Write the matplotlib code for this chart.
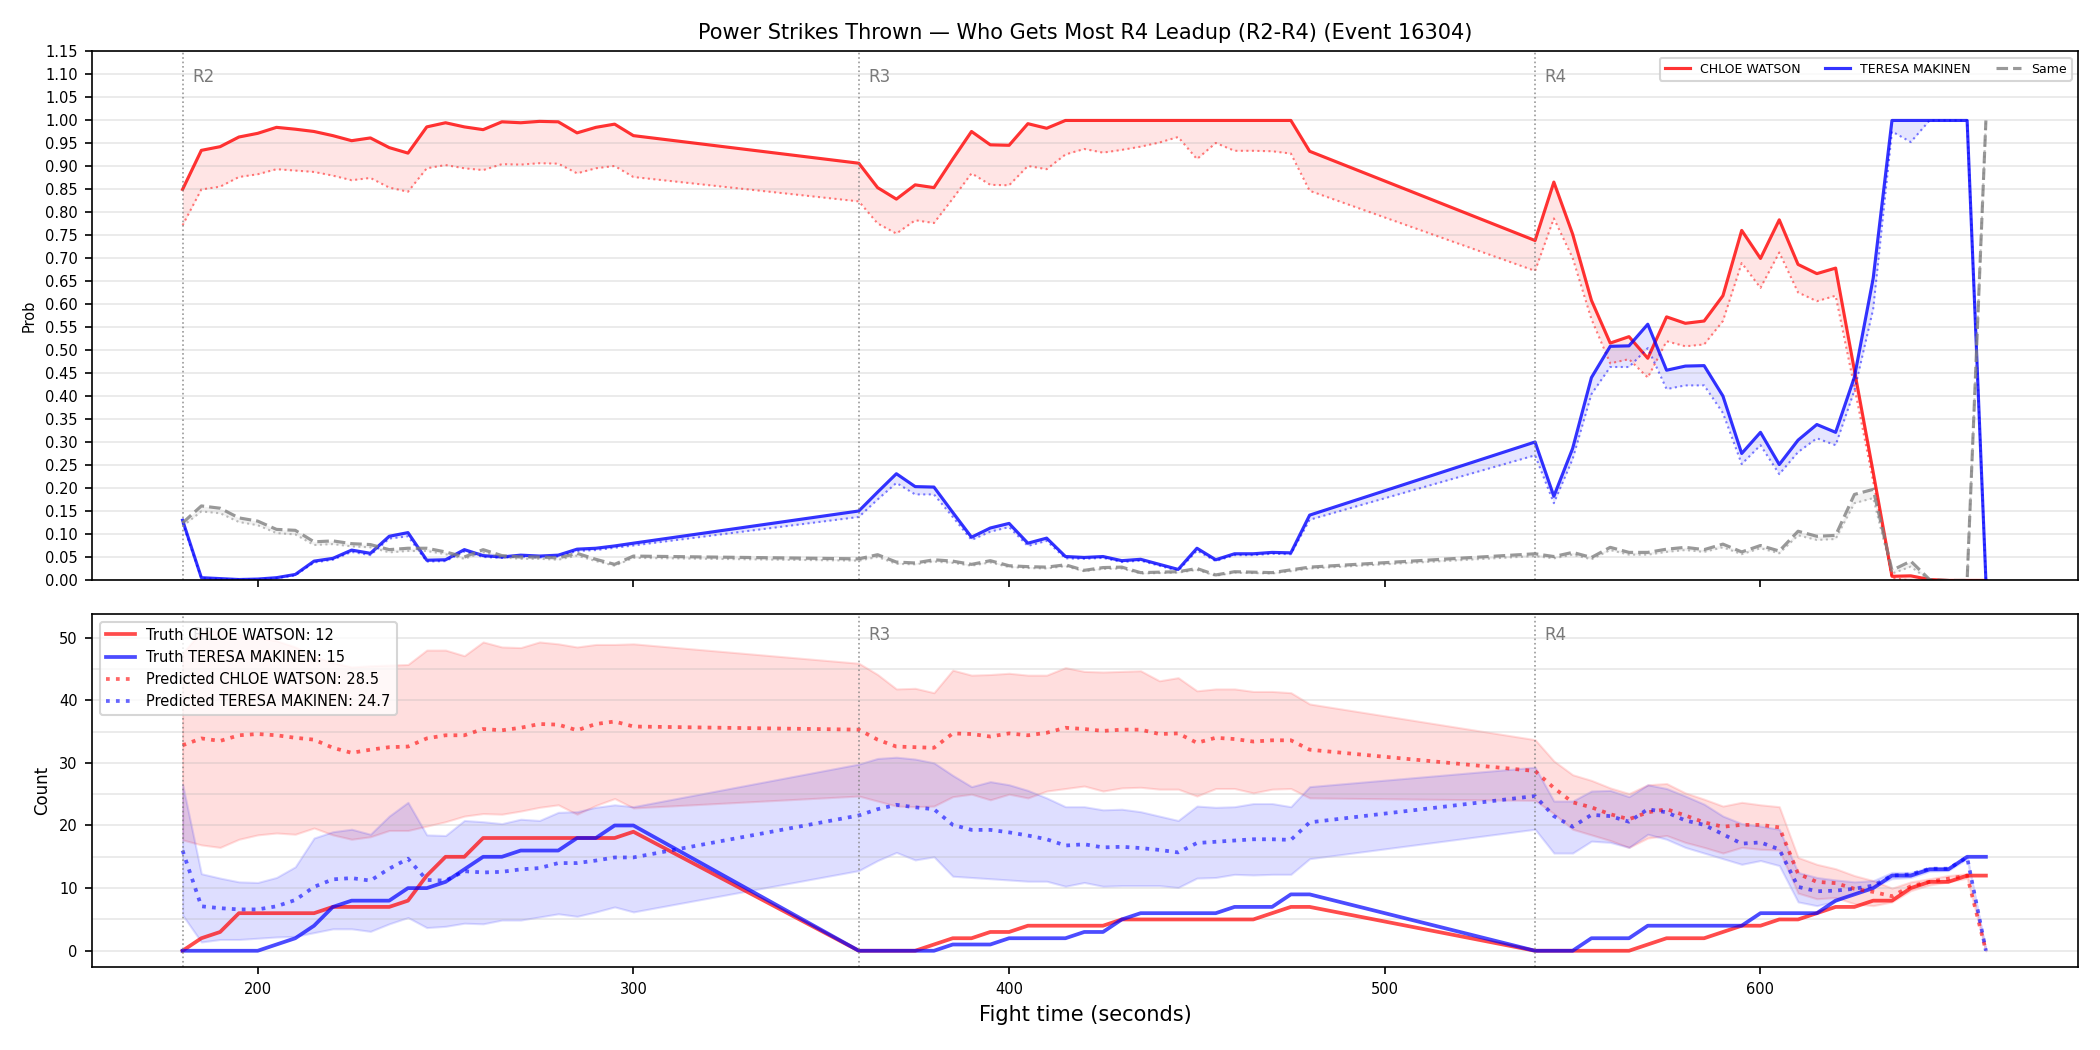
import numpy as np
import matplotlib
matplotlib.use("Agg")
import matplotlib.pyplot as plt
from matplotlib.lines import Line2D
from matplotlib.ticker import MultipleLocator, FormatStrFormatter
import matplotlib.transforms as mtransforms

# ---- time grid (seconds) ----
times = list(range(180, 301, 5)) + list(range(360, 481, 5)) + list(range(540, 661, 5))
round_starts = [180, 360, 540]
round_labels = ["R2", "R3", "R4"]

name_a = "CHLOE WATSON"
name_b = "TERESA MAKINEN"

# ---- top panel: probabilities ----
p_chloe = [0.850, 0.935, 0.943, 0.964, 0.972, 0.985, 0.981, 0.976, 0.967, 0.956, 0.962, 0.941, 0.929,
           0.986, 0.995, 0.986, 0.980, 0.997, 0.995, 0.998, 0.997, 0.973, 0.985, 0.992, 0.967,
           0.907, 0.854, 0.829, 0.860, 0.854, 0.916, 0.976, 0.947, 0.946, 0.993, 0.983, 1.0, 1.0,
           1.0, 1.0, 1.0, 1.0, 1.0, 1.0, 1.0, 1.0, 1.0, 1.0, 1.0, 0.933,
           0.739, 0.866, 0.753, 0.609, 0.516, 0.530, 0.483, 0.573, 0.559, 0.564, 0.619, 0.761, 0.700,
           0.784, 0.687, 0.667, 0.679, 0.457, 0.235, 0.009, 0.010, 0.002, 0.0, 0.0, 0.0]
p_chloe_lo = [0.772, 0.850, 0.856, 0.877, 0.883, 0.894, 0.891, 0.888, 0.880, 0.870, 0.875, 0.854, 0.845,
              0.896, 0.903, 0.896, 0.892, 0.905, 0.904, 0.907, 0.906, 0.885, 0.896, 0.901, 0.877,
              0.824, 0.776, 0.754, 0.783, 0.777, 0.830, 0.885, 0.860, 0.859, 0.901, 0.894, 0.926, 0.938,
              0.930, 0.936, 0.943, 0.952, 0.964, 0.916, 0.951, 0.934, 0.934, 0.933, 0.928, 0.847,
              0.673, 0.787, 0.701, 0.568, 0.472, 0.481, 0.441, 0.520, 0.509, 0.513, 0.564, 0.690, 0.636,
              0.713, 0.626, 0.607, 0.619, 0.420, 0.215, 0.005, 0.0, 0.0, 0.0, 0.0, 0.0]
p_teresa = [0.131, 0.006, 0.004, 0.002, 0.003, 0.006, 0.013, 0.042, 0.048, 0.066, 0.059, 0.096, 0.104,
            0.044, 0.045, 0.067, 0.054, 0.051, 0.055, 0.053, 0.055, 0.068, 0.070, 0.075, 0.081,
            0.151, 0.192, 0.232, 0.204, 0.203, 0.148, 0.094, 0.114, 0.124, 0.081, 0.092, 0.052, 0.050,
            0.052, 0.043, 0.046, 0.035, 0.024, 0.070, 0.045, 0.058, 0.058, 0.061, 0.060, 0.142,
            0.301, 0.183, 0.287, 0.441, 0.509, 0.510, 0.557, 0.457, 0.466, 0.467, 0.401, 0.276, 0.322,
            0.252, 0.305, 0.339, 0.322, 0.442, 0.657, 1.0, 1.0, 1.0, 1.0, 1.0, 0.0]
p_teresa_lo = [0.125, 0.005, 0.003, 0.002, 0.002, 0.005, 0.011, 0.039, 0.045, 0.062, 0.055, 0.091, 0.096,
               0.041, 0.042, 0.063, 0.051, 0.049, 0.052, 0.050, 0.052, 0.064, 0.066, 0.071, 0.076,
               0.138, 0.176, 0.212, 0.187, 0.187, 0.138, 0.088, 0.106, 0.116, 0.075, 0.086, 0.048, 0.047,
               0.049, 0.040, 0.043, 0.032, 0.021, 0.065, 0.042, 0.055, 0.055, 0.058, 0.057, 0.132,
               0.272, 0.168, 0.264, 0.405, 0.464, 0.464, 0.505, 0.416, 0.424, 0.424, 0.364, 0.253, 0.294,
               0.231, 0.279, 0.309, 0.294, 0.413, 0.590, 0.976, 0.953, 1.0, 1.0, 1.0, 0.0]
p_same = [0.125, 0.162, 0.157, 0.136, 0.129, 0.111, 0.109, 0.084, 0.086, 0.080, 0.078, 0.067, 0.070,
          0.070, 0.062, 0.051, 0.067, 0.054, 0.051, 0.051, 0.049, 0.059, 0.046, 0.035, 0.053,
          0.047, 0.056, 0.040, 0.038, 0.045, 0.042, 0.035, 0.043, 0.032, 0.030, 0.029, 0.034, 0.022,
          0.028, 0.029, 0.017, 0.018, 0.019, 0.026, 0.012, 0.019, 0.018, 0.017, 0.023, 0.029,
          0.058, 0.052, 0.061, 0.050, 0.072, 0.061, 0.061, 0.068, 0.072, 0.067, 0.079, 0.062, 0.076,
          0.064, 0.107, 0.096, 0.098, 0.187, 0.198, 0.022, 0.042, 0.002, 0.0, 0.0, 1.0]
p_same_lo = [0.118, 0.150, 0.146, 0.127, 0.120, 0.103, 0.100, 0.077, 0.079, 0.074, 0.072, 0.061, 0.064,
             0.064, 0.057, 0.047, 0.061, 0.050, 0.047, 0.047, 0.045, 0.054, 0.042, 0.032, 0.049,
             0.043, 0.051, 0.036, 0.035, 0.041, 0.038, 0.032, 0.039, 0.029, 0.027, 0.026, 0.031, 0.020,
             0.025, 0.026, 0.015, 0.016, 0.017, 0.023, 0.010, 0.017, 0.016, 0.015, 0.020, 0.026,
             0.053, 0.048, 0.056, 0.046, 0.066, 0.056, 0.056, 0.062, 0.066, 0.062, 0.072, 0.057, 0.070,
             0.059, 0.098, 0.088, 0.090, 0.168, 0.179, 0.015, 0.030, 0.0, 0.0, 0.0, 1.0]

# ---- bottom panel: counts ----
truth_chloe = [0, 2, 3, 6, 6, 6, 6, 6, 7, 7, 7, 7, 8, 12, 15, 15, 18, 18, 18, 18, 18, 18, 18, 18, 19,
               0, 0, 0, 0, 1, 2, 2, 3, 3, 4, 4, 4, 4, 4, 5, 5, 5, 5, 5, 5, 5, 5, 6, 7, 7,
               0, 0, 0, 0, 0, 0, 1, 2, 2, 2, 3, 4, 4, 5, 5, 6, 7, 7, 8, 8, 10, 11, 11, 12, 12]
truth_teresa = [0, 0, 0, 0, 0, 1, 2, 4, 7, 8, 8, 8, 10, 10, 11, 13, 15, 15, 16, 16, 16, 18, 18, 20, 20,
                0, 0, 0, 0, 0, 1, 1, 1, 2, 2, 2, 2, 3, 3, 5, 6, 6, 6, 6, 6, 7, 7, 7, 9, 9,
                0, 0, 0, 2, 2, 2, 4, 4, 4, 4, 4, 4, 6, 6, 6, 6, 8, 9, 10, 12, 12, 13, 13, 15, 15]
pred_chloe = [32.8, 33.9, 33.5, 34.4, 34.6, 34.4, 34.0, 33.7, 32.4, 31.6, 32.1, 32.5, 32.6, 33.9, 34.4,
              34.4, 35.4, 35.2, 35.6, 36.2, 36.1, 35.2, 36.2, 36.6, 35.8,
              35.3, 33.7, 32.6, 32.5, 32.4, 34.7, 34.6, 34.2, 34.7, 34.4, 34.8, 35.6, 35.4, 35.1, 35.3,
              35.3, 34.6, 34.7, 33.2, 34.0, 33.8, 33.4, 33.6, 33.6, 32.1,
              28.7, 26.0, 23.7, 22.9, 21.8, 21.0, 22.1, 22.6, 21.6, 20.5, 19.8, 20.1, 20.1, 19.7, 12.3,
              11.0, 10.8, 9.9, 9.4, 8.7, 10.3, 11.0, 11.5, 12.0, 0.0]
chloe_hi = [47.5, 51.0, 51.1, 50.5, 50.0, 49.5, 48.5, 47.0, 46.0, 45.3, 45.5, 45.6, 45.7, 48.0, 48.0,
            47.1, 49.3, 48.5, 48.4, 49.3, 49.0, 48.5, 48.9, 48.9, 49.0,
            45.9, 44.1, 41.8, 41.9, 41.2, 44.8, 44.0, 44.1, 44.3, 44.0, 44.0, 45.2, 44.6, 44.5, 44.6,
            44.7, 43.1, 43.6, 41.5, 41.8, 41.8, 41.4, 41.4, 41.2, 39.4,
            33.7, 30.3, 28.1, 27.2, 26.0, 25.1, 26.5, 26.7, 25.2, 24.2, 23.1, 23.7, 23.3, 23.0, 14.9,
            13.8, 13.1, 12.0, 11.2, 10.0, 11.0, 11.5, 12.0, 12.3, 0.0]
chloe_lo = [17.7, 16.9, 16.5, 17.8, 18.5, 18.8, 18.6, 19.6, 18.5, 17.8, 18.2, 19.2, 19.2, 19.9, 20.6,
            21.5, 21.9, 21.8, 22.3, 22.9, 23.3, 21.8, 23.2, 24.3, 22.8,
            24.7, 23.9, 23.1, 23.0, 23.1, 24.6, 25.0, 24.1, 25.0, 24.4, 25.5, 25.9, 26.3, 25.5, 26.0,
            26.1, 25.8, 25.8, 24.7, 25.9, 25.9, 25.2, 25.8, 25.9, 24.4,
            24.0, 21.9, 19.4, 18.5, 17.6, 16.5, 18.0, 18.4, 17.3, 16.5, 15.6, 16.5, 16.2, 16.1, 9.2,
            8.3, 8.5, 7.5, 7.2, 7.8, 9.6, 10.5, 11.0, 11.6, 0.0]
pred_teresa = [16.0, 7.1, 6.8, 6.6, 6.6, 7.1, 8.1, 10.2, 11.4, 11.6, 11.2, 13.1, 14.7, 11.3, 11.2,
               12.7, 12.5, 12.6, 13.0, 13.2, 14.0, 14.0, 14.4, 14.9, 14.9,
               21.6, 22.6, 23.3, 22.9, 22.6, 20.1, 19.3, 19.3, 18.9, 18.4, 17.8, 16.8, 17.0, 16.5, 16.6,
               16.4, 16.1, 15.7, 17.2, 17.4, 17.6, 17.8, 17.8, 17.7, 20.5,
               24.7, 21.5, 19.8, 21.7, 21.5, 20.6, 22.6, 22.1, 20.8, 20.1, 18.6, 17.1, 17.3, 16.2, 10.2,
               9.5, 9.6, 9.9, 10.4, 12.0, 12.2, 13.1, 13.1, 14.9, 0.0]
teresa_hi = [26.6, 12.3, 11.6, 11.0, 10.9, 11.7, 13.4, 18.0, 19.0, 19.4, 18.6, 21.5, 23.7, 18.5, 18.4,
             20.8, 20.6, 20.3, 21.0, 20.8, 22.1, 22.2, 22.9, 23.3, 23.0,
             29.8, 30.7, 30.9, 30.6, 30.0, 28.0, 26.2, 27.0, 26.5, 25.6, 24.4, 23.0, 23.0, 22.5, 22.6,
             22.2, 21.5, 20.8, 23.1, 22.9, 23.0, 23.5, 23.5, 23.0, 26.2,
             29.3, 23.9, 23.9, 25.5, 25.6, 24.6, 26.5, 25.9, 24.7, 23.4, 21.5, 20.3, 19.9, 19.4, 12.5,
             11.7, 11.3, 11.0, 11.2, 12.5, 12.5, 13.3, 13.3, 15.0, 0.0]
teresa_lo = [5.7, 1.4, 1.8, 1.8, 2.0, 2.2, 2.3, 2.9, 3.5, 3.5, 3.1, 4.3, 5.3, 3.7, 3.9,
             4.4, 4.3, 4.9, 4.9, 5.4, 5.9, 5.5, 6.2, 7.0, 6.2,
             12.8, 14.4, 15.7, 14.5, 15.0, 11.9, 11.7, 11.5, 11.3, 11.1, 11.1, 10.3, 10.9, 10.3, 10.4,
             10.4, 10.4, 10.1, 11.6, 11.7, 12.2, 12.1, 12.2, 12.2, 14.7,
             19.4, 15.6, 15.6, 17.5, 17.3, 16.5, 18.6, 17.8, 16.5, 15.6, 14.7, 13.8, 14.4, 13.6, 7.8,
             7.2, 7.9, 9.2, 10.2, 11.5, 11.7, 12.7, 12.8, 14.7, 0.0]
pred_chloe_label = "28.5"
pred_teresa_label = "24.7"

# ---- figure ----
fig = plt.figure(figsize=(14, 7), dpi=150)
gs = fig.add_gridspec(2, 1, height_ratios=[3, 2])
ax1 = fig.add_subplot(gs[0])
ax2 = fig.add_subplot(gs[1], sharex=ax1)
fig.subplots_adjust(left=0.044, right=0.9895, top=0.951, bottom=0.079, hspace=0.077)

t = np.array(times)

# top panel
ax1.fill_between(t, p_chloe_lo, p_chloe, color="red", alpha=0.1, linewidth=0)
ax1.plot(t, p_chloe, color="red", lw=1.5, alpha=0.8)
ax1.plot(t, p_chloe_lo, color="red", lw=1.0, ls=":", alpha=0.5)
ax1.fill_between(t, p_teresa_lo, p_teresa, color="blue", alpha=0.1, linewidth=0)
ax1.plot(t, p_teresa, color="blue", lw=1.5, alpha=0.8)
ax1.plot(t, p_teresa_lo, color="blue", lw=1.0, ls=":", alpha=0.5)
ax1.fill_between(t, p_same_lo, p_same, color="gray", alpha=0.1, linewidth=0)
ax1.plot(t, p_same, color="gray", lw=1.5, ls="--", alpha=0.8)
ax1.plot(t, p_same_lo, color="gray", lw=1.0, ls=":", alpha=0.5)

ax1.set_ylim(0, 1.15)
ax1.yaxis.set_major_locator(MultipleLocator(0.05))
ax1.yaxis.set_major_formatter(FormatStrFormatter("%.2f"))
ax1.set_ylabel("Prob", fontsize=7)
ax1.grid(axis="y", alpha=0.3)
ax1.tick_params(labelsize=7)
plt.setp(ax1.get_xticklabels(), visible=False)
ax1.set_title("Power Strikes Thrown \u2014 Who Gets Most R4 Leadup (R2-R4) (Event 16304)", fontsize=10)

handles = [Line2D([], [], color="red", lw=1.5, alpha=0.8),
           Line2D([], [], color="blue", lw=1.5, alpha=0.8),
           Line2D([], [], color="gray", lw=1.5, ls="--", alpha=0.8)]
ax1.legend(handles, [name_a, name_b, "Same"], loc="upper right", ncol=3, fontsize=6)

# bottom panel
ax2.fill_between(t, chloe_lo, chloe_hi, color="red", alpha=0.13)
ax2.fill_between(t, teresa_lo, teresa_hi, color="blue", alpha=0.13)
ax2.plot(t, truth_chloe, color="red", lw=1.8, alpha=0.7,
         label=f"Truth {name_a}: {truth_chloe[-1]}")
ax2.plot(t, truth_teresa, color="blue", lw=1.8, alpha=0.7,
         label=f"Truth {name_b}: {truth_teresa[-1]}")
ax2.plot(t, pred_chloe, color="red", lw=1.8, ls=":", alpha=0.6,
         label=f"Predicted {name_a}: {pred_chloe_label}")
ax2.plot(t, pred_teresa, color="blue", lw=1.8, ls=":", alpha=0.6,
         label=f"Predicted {name_b}: {pred_teresa_label}")
ax2.set_ylim(-2.6, 53.7)
ax2.yaxis.set_major_locator(MultipleLocator(10))
ax2.yaxis.set_minor_locator(MultipleLocator(5))
ax2.tick_params(which="minor", length=0)
ax2.grid(axis="y", which="both", alpha=0.3)
ax2.tick_params(labelsize=7)
ax2.set_ylabel("Count", fontsize=8)
ax2.set_xlabel("Fight time (seconds)", fontsize=10)
ax2.legend(loc="upper left", fontsize=7)

ax1.set_xlim(156, 684.5)

for ax in (ax1, ax2):
    trans = mtransforms.blended_transform_factory(ax.transData, ax.transAxes)
    for rs, rl in zip(round_starts, round_labels):
        ax.axvline(rs, color="gray", ls=":", lw=0.8, alpha=0.8)
        ax.text(rs + 2.5, 0.968, rl, transform=trans, ha="left", va="top",
                fontsize=8, color="dimgray", alpha=0.9, zorder=1)

fig.savefig("out.png", dpi=150)
